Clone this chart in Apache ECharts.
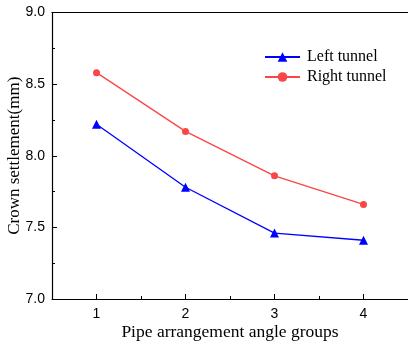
<!DOCTYPE html>
<html>
<head>
<meta charset="utf-8">
<style>
  html, body { margin: 0; padding: 0; background: #fff; }
  #chart { width: 408px; height: 346px; }
</style>
<script src="https://cdn.jsdelivr.net/npm/echarts@6/dist/echarts.min.js"></script>
</head>
<body>
<div id="chart"></div>
<script>
// Pipe arrangement angle groups on the x axis
const groups = ['1', '2', '3', '4'];
// Crown settlement (mm) for each tunnel
const leftTunnel = [8.22, 7.78, 7.46, 7.41];
const rightTunnel = [8.58, 8.17, 7.86, 7.66];
const seriesNames = ['Left tunnel', 'Right tunnel'];

const chart = echarts.init(document.getElementById('chart'), null, { renderer: 'canvas' });

const serif = 'Liberation Serif';
const sans = 'Liberation Sans';

chart.setOption({
  animation: false,
  backgroundColor: '#fff',
  grid: { left: 52, top: 12.5, right: 0, bottom: 47, containLabel: false, outerBoundsMode: 'none' },
  legend: {
    orient: 'vertical',
    left: 259,
    top: 44,
    itemWidth: 35,
    itemHeight: 12,
    itemGap: 4,
    textStyle: { fontFamily: serif, fontSize: 16, color: '#000', padding: [0, 0, 0, 2] },
    data: seriesNames
  },
  xAxis: [
    {
      type: 'category',
      data: groups,
      boundaryGap: true,
      name: 'Pipe arrangement angle groups',
      nameLocation: 'middle',
      nameGap: 24,
      nameMoveOverlap: false,
      nameTextStyle: { fontFamily: serif, fontSize: 17.5, color: '#000' },
      axisLine: { lineStyle: { color: '#000', width: 1.2 } },
      axisTick: { show: true, inside: true, alignWithLabel: true, length: 5, lineStyle: { color: '#000' } },
      axisLabel: { fontFamily: sans, fontSize: 14, color: '#000', margin: 8 },
      splitLine: { show: false }
    },
    {
      // half-step ticks between the groups
      type: 'category',
      data: groups,
      boundaryGap: true,
      position: 'bottom',
      axisLine: { show: false },
      axisTick: { show: true, inside: true, length: 3, lineStyle: { color: '#000' } },
      axisLabel: { show: false },
      splitLine: { show: false }
    },
    {
      // top frame line
      type: 'category',
      data: groups,
      position: 'top',
      axisLine: { show: true, lineStyle: { color: '#000', width: 1.2 } },
      axisTick: { show: false },
      axisLabel: { show: false },
      splitLine: { show: false }
    }
  ],
  yAxis: {
    type: 'value',
    min: 7,
    max: 9,
    interval: 0.5,
    name: 'Crown settlement(mm)',
    nameLocation: 'middle',
    nameGap: 29,
    nameMoveOverlap: false,
    nameTextStyle: { fontFamily: serif, fontSize: 17, color: '#000' },
    axisLine: { show: true, lineStyle: { color: '#000', width: 1.2 } },
    axisTick: { show: true, inside: true, length: 5, lineStyle: { color: '#000' } },
    minorTick: { show: true, splitNumber: 2, length: 3, lineStyle: { color: '#000' } },
    axisLabel: {
      fontFamily: sans, fontSize: 14, color: '#000', margin: 7,
      formatter: v => v.toFixed(1)
    },
    splitLine: { show: false }
  },
  series: [
    {
      name: seriesNames[0],
      type: 'line',
      xAxisIndex: 0,
      data: leftTunnel,
      symbol: 'triangle',
      symbolSize: 9,
      itemStyle: { color: '#0000ff' },
      lineStyle: { color: '#0000ff', width: 1.3 }
    },
    {
      name: seriesNames[1],
      type: 'line',
      xAxisIndex: 0,
      data: rightTunnel,
      symbol: 'circle',
      symbolSize: 7,
      itemStyle: { color: '#f94646' },
      lineStyle: { color: '#f94646', width: 1.3 }
    }
  ]
});
</script>
</body>
</html>
